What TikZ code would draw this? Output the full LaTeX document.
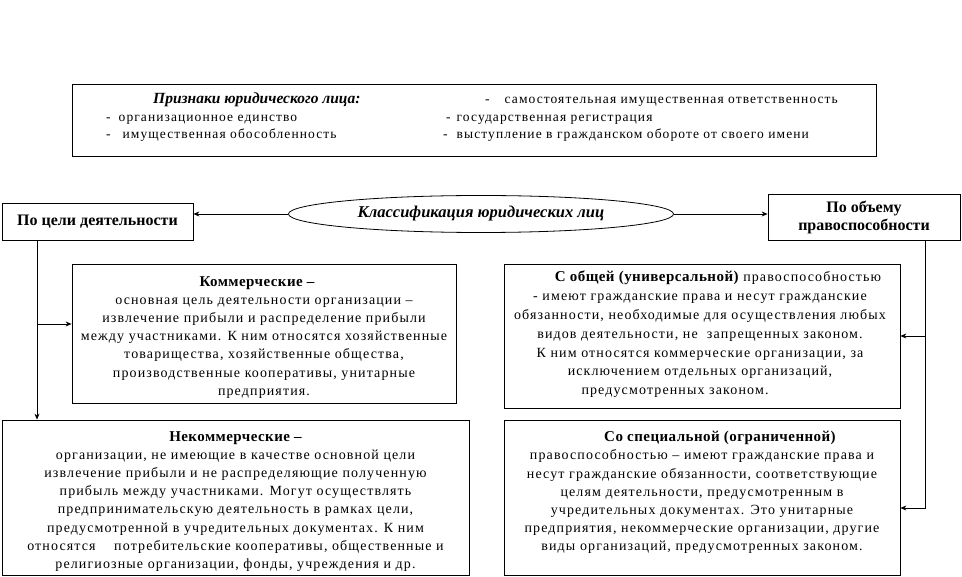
\documentclass[tikz,border=0pt]{standalone}
\usepackage{fontspec}
\setmainfont{Liberation Serif}
\newfontfamily\spaced[LetterSpace=8]{Liberation Serif}
\newfontfamily\hspaced[LetterSpace=3]{Liberation Serif}
\usetikzlibrary{arrows.meta,shapes.geometric}
\begin{document}
\begin{tikzpicture}[x=1pt,y=-1pt,
  box/.style={draw, line width=0.8pt, inner sep=0pt},
  arr/.style={-{Stealth[length=6pt,width=5pt]}, line width=0.8pt},
  body/.style={align=center, inner sep=0pt, font=\fontsize{14}{18.2}\selectfont\spaced},
  topt/.style={anchor=base west, inner sep=0pt, font=\fontsize{13.5}{16}\selectfont\spaced},
  head/.style={align=center, inner sep=0pt, font=\fontsize{16}{18}\selectfont\bfseries}]
\newcommand\bhead[1]{{\fontsize{15}{18}\hspaced\bfseries #1}}
\useasboundingbox (0,0) rectangle (962,577);

% top box
\node[box, minimum width=804, minimum height=72] (top) at (474,120) {};
\node[topt, font=\fontsize{15.5}{16}\selectfont\bfseries\itshape] (t0) at (153,104) {Признаки юридического лица:};
\node[topt] (t1) at (485,104) {-\hspace{15pt}самостоятельная имущественная ответственность};
\node[topt] (t2) at (106,122) {-\hspace{8pt}организационное единство};
\node[topt] (t3) at (446,122) {-\hspace{6pt}государственная регистрация};
\node[topt] (t4) at (106,139) {-\hspace{12pt}имущественная обособленность};
\node[topt] (t5) at (443,139) {-\hspace{9pt}выступление в гражданском обороте от своего имени};

% classification row
\node[draw, ellipse, line width=0.8pt, minimum width=385, minimum height=37, inner sep=0pt,
  font=\fontsize{16.5}{16}\selectfont\bfseries\itshape] (ell) at (481,214) {Классификация юридических лиц};
\node[box, minimum width=191, minimum height=37, head] (lbox) at (97.5,221.5) {По цели деятельности};
\node[box, minimum width=192, minimum height=46, head] (rbox) at (864,217) {По объему\\правоспособности};

\draw[arr] (ell.west) -- (ell.west -| lbox.east);
\draw[arr] (ell.east) -- (ell.east -| rbox.west);

% left boxes
\node[box, minimum width=384, minimum height=139] (kom) at (264,333.5) {};
\node[body, anchor=north] (komt) at (264,276) {\hspace*{-14pt}\bhead{Коммерческие –}\\
основная цель деятельности организации –\\
извлечение прибыли и распределение прибыли\\
между участниками. К ним относятся хозяйственные\\
товарищества, хозяйственные общества,\\
производственные кооперативы, унитарные\\
предприятия.};

\node[box, minimum width=467, minimum height=155] (nk) at (235.5,497.5) {};
\node[body, anchor=north] (nkt) at (235.5,431) {\bhead{Некоммерческие –}\\
организации, не имеющие в качестве основной цели\\
извлечение прибыли и не распределяющие полученную\\
прибыль между участниками. Могут осуществлять\\
предпринимательскую деятельность в рамках цели,\\
предусмотренной в учредительных документах. К ним\\
относятся\hspace{14pt} потребительские кооперативы, общественные и\\
религиозные организации, фонды, учреждения и др.};

% right boxes
\node[box, minimum width=396, minimum height=144] (gen) at (702,336) {};
\node[body, anchor=north, font=\fontsize{14}{18.8}\selectfont\spaced] (gent) at (700,271) {\hspace*{36pt}\bhead{С общей (универсальной)} правоспособностью\\
- имеют гражданские права и несут гражданские\\
обязанности, необходимые для осуществления любых\\
видов деятельности, не\ \ запрещенных законом.\\
К ним относятся коммерческие организации, за\\
исключением отдельных организаций,\\
\hspace*{-50pt}предусмотренных законом.};

\node[box, minimum width=396, minimum height=155] (sp) at (702,497.5) {};
\node[body, anchor=north] (spt) at (702,431) {\hspace*{36pt}\bhead{Со специальной (ограниченной)}\\
правоспособностью – имеют гражданские права и\\
несут гражданские обязанности, соответствующие\\
целям деятельности, предусмотренным в\\
учредительных документах. Это унитарные\\
предприятия, некоммерческие организации, другие\\
виды организаций, предусмотренных законом.};

% left connectors
\coordinate (ltop) at (37,240);
\coordinate (lbr) at (37,324);
\draw[arr] (ltop) -- (ltop |- nk.north);
\draw[arr] (lbr) -- (lbr -| kom.west);

% right connectors
\coordinate (rtop) at (925,240);
\coordinate (rbr) at (925,336);
\coordinate (rbend) at (925,508);
\draw[arr] (rtop) -- (rbend) -- (rbend -| sp.east);
\draw[arr] (rbr) -- (rbr -| gen.east);
\end{tikzpicture}
\end{document}
